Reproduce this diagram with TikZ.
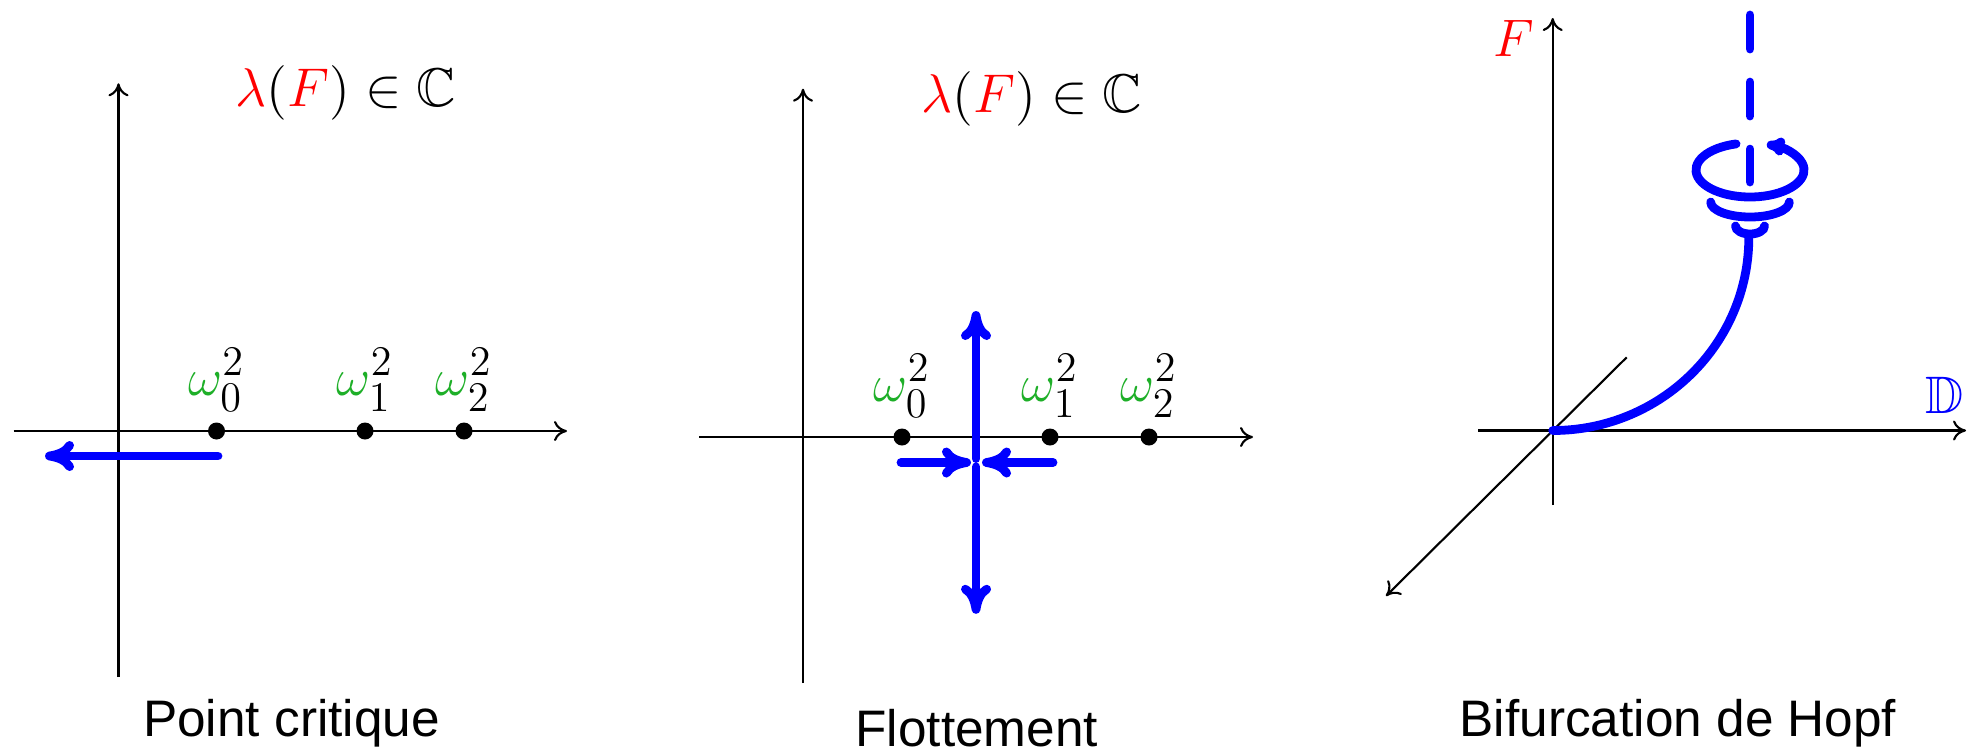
\RequirePackage{fix-cm}
\documentclass[tikz,border=0pt]{standalone}
\usepackage{amssymb}
\usepackage{fontspec}
\setsansfont{Liberation Sans}
\usetikzlibrary{arrows.meta,calc}
\definecolor{mygreen}{RGB}{30,175,40}
\DeclareMathSizes{15}{15}{12}{9}
\DeclareMathSizes{15.5}{15.5}{11}{8}
\begin{document}
\begin{tikzpicture}[x=0.01cm,y=0.01cm,
  axis/.style={black,line width=0.6pt,-{Computer Modern Rightarrow[length=1.3mm,width=2mm]}},
  blueline/.style={blue,line width=2.5pt,line cap=round},
  bluearrow/.style={blueline,-{Computer Modern Rightarrow[length=2.9mm,width=3mm,round]}},
  smallbluearrow/.style={blueline,-{Computer Modern Rightarrow[length=1.8mm,width=1.8mm,round]}},
  dot/.style={circle,fill=black,inner sep=0pt,minimum size=0.17cm},
  mathlbl/.style={font=\fontsize{15}{18}\selectfont,inner sep=0pt},
  titlelbl/.style={font=\fontsize{15.5}{19}\selectfont,inner sep=0pt},
  caption/.style={font=\fontsize{14.6}{17}\selectfont\sffamily,inner sep=0pt,anchor=base}]
\useasboundingbox (0,0) rectangle (1979,750);

% ---------- Panel 1 : Point critique ----------
\coordinate (v1b) at (118.5,73);
\coordinate (v1t) at (118.5,666.7);
\coordinate (h1l) at (13.5,319);
\coordinate (h1r) at (567,319);
\draw[axis] (v1b) -- (v1t);
\draw[axis] (h1l) -- (h1r);
\node[dot] (p10) at (216.5,319) {};
\node[dot] (p11) at (365,319) {};
\node[dot] (p12) at (464,319) {};
\node[mathlbl,anchor=base] (w10) at (216.5,355) {$\color{mygreen}\omega_0^{\color{black}2}$};
\node[mathlbl,anchor=base] (w11) at (365,355) {$\color{mygreen}\omega_1^{\color{black}2}$};
\node[mathlbl,anchor=base] (w12) at (464,355) {$\color{mygreen}\omega_2^{\color{black}2}$};
\coordinate (b1s) at (218,294);
\coordinate (b1e) at (45,294);
\draw[bluearrow] (b1s) -- (b1e);
\node[titlelbl] (t1) at (346,656.7) {$\textcolor{red}{\lambda}(\textcolor{red}{F})\in\mathbb{C}$};
\node[caption] (c1) at (291.5,13.3) {Point critique};

% ---------- Panel 2 : Flottement ----------
\coordinate (v2b) at (803,67);
\coordinate (v2t) at (803,661.3);
\coordinate (h2l) at (699,313);
\coordinate (h2r) at (1253,313);
\draw[axis] (v2b) -- (v2t);
\draw[axis] (h2l) -- (h2r);
\node[dot] (p20) at (902,313) {};
\node[dot] (p21) at (1050,313) {};
\node[dot] (p22) at (1149,313) {};
\node[mathlbl,anchor=base] (w20) at (902,349) {$\color{mygreen}\omega_0^{\color{black}2}$};
\node[mathlbl,anchor=base] (w21) at (1050,349) {$\color{mygreen}\omega_1^{\color{black}2}$};
\node[mathlbl,anchor=base] (w22) at (1149,349) {$\color{mygreen}\omega_2^{\color{black}2}$};
\coordinate (up0) at (976,291.4);
\coordinate (up1) at (976,439);
\coordinate (dn0) at (976,283.2);
\coordinate (dn1) at (976,136.2);
\coordinate (lf0) at (901,287.5);
\coordinate (lf1) at (971,287.5);
\coordinate (rt0) at (1053,287.5);
\coordinate (rt1) at (982,287.5);
\draw[bluearrow] (up0) -- (up1);
\draw[bluearrow] (dn0) -- (dn1);
\draw[bluearrow] (lf0) -- (lf1);
\draw[bluearrow] (rt0) -- (rt1);
\node[titlelbl] (t2) at (1032,651.5) {$\textcolor{red}{\lambda}(\textcolor{red}{F})\in\mathbb{C}$};
\node[caption] (c2) at (976.7,3.3) {Flottement};

% ---------- Panel 3 : Bifurcation de Hopf ----------
\coordinate (O3) at (1552.7,319.5);
\coordinate (v3b) at (1552.7,245);
\coordinate (v3t) at (1552.7,732);
\coordinate (h3l) at (1478.3,319.5);
\coordinate (h3r) at (1966,319.5);
\coordinate (g3a) at (1626.7,392.7);
\coordinate (g3b) at (1386,154);
\draw[axis] (v3b) -- (v3t);
\draw[axis] (h3l) -- (h3r);
\draw[axis] (g3a) -- (g3b);
\node[mathlbl] (F3) at (1514,712) {$\textcolor{red}{F}$};
\node[mathlbl] (D3) at (1945,355) {$\textcolor{blue}{\mathbb{D}}$};
% branch
\draw[blueline] (O3) arc[start angle=270,end angle=360,x radius=1.96cm,y radius=1.93cm];
% rings
\coordinate (Csm) at (1750,524);
\coordinate (Cmd) at (1750,548);
\coordinate (Cbg) at (1750,580);
\draw[blueline] ([shift={(180:0.145cm and 0.08cm)}]Csm) arc[start angle=180,end angle=360,x radius=0.145cm,y radius=0.08cm];
\draw[blueline] ([shift={(180:0.393cm and 0.15cm)}]Cmd) arc[start angle=180,end angle=360,x radius=0.393cm,y radius=0.15cm];
\draw[smallbluearrow] ([shift={(105:0.54cm and 0.27cm)}]Cbg) arc[start angle=105,end angle=432,x radius=0.54cm,y radius=0.27cm];
% dashed axis of the cycle
\coordinate (dsh0) at (1750,735);
\coordinate (dsh1) at (1750,568);
\draw[blueline,dash pattern=on 0.34cm off 0.33cm] (dsh0) -- (dsh1);
\node[caption] (c3) at (1678,13.3) {Bifurcation de Hopf};
\end{tikzpicture}
\end{document}
